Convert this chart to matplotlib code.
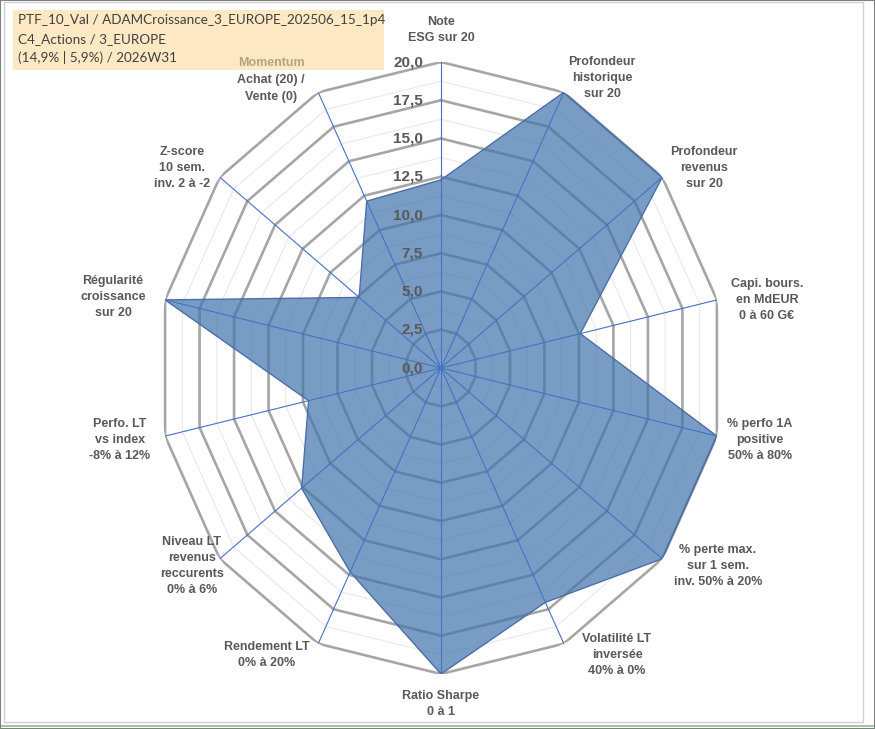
import numpy as np
import matplotlib.pyplot as plt
from matplotlib.patches import Rectangle

# --- data ---
categories = [
    'Note\nESG sur 20',
    'Profondeur\nhistorique\nsur 20',
    'Profondeur\nrevenus\nsur 20',
    'Capi. bours.\nen MdEUR\n0 à 60 G€',
    '% perfo 1A\npositive\n50% à 80%',
    '% perte max.\nsur 1 sem.\ninv. 50% à 20%',
    'Volatilité LT\ninversée\n40% à 0%',
    'Ratio Sharpe\n0 à 1',
    'Rendement LT\n0% à 20%',
    'Niveau LT\nrevenus\nreccurents\n0% à 6%',
    'Perfo. LT\nvs index\n-8% à 12%',
    'Régularité\ncroissance\nsur 20',
    'Z-score\n10 sem.\ninv. 2 à -2',
    'Momentum\nAchat (20) /\nVente (0)',
]
scores = [12.3, 20.0, 20.0, 10.1, 20.0, 20.0, 17.0, 20.0, 14.8, 12.6, 9.6, 20.0, 7.4, 12.1]
ring_ticks = [0.0, 2.5, 5.0, 7.5, 10.0, 12.5, 15.0, 17.5, 20.0]
tick_labels = ['0,0', '2,5', '5,0', '7,5', '10,0', '12,5', '15,0', '17,5', '20,0']
title_lines = [
    'PTF_10_Val / ADAMCroissance_3_EUROPE_202506_15_1p4',
    'C4_Actions / 3_EUROPE',
    '(14,9% | 5,9%) / 2026W31',
]

# label centres in pixels (x, y from top) - Excel places them by hand
label_pos = [(441, 30), (602, 78), (704, 168), (767, 300), (760, 440),
             (718, 566), (617, 655), (441, 704), (267, 655), (192, 566),
             (120, 440), (113, 297), (182, 168), (271, 80)]

W, H = 875, 729
TXT = '#595959'

fig = plt.figure(figsize=(W / 100, H / 100), dpi=100)

# frame
fig.patches.append(Rectangle((4 / W, 1 - 722 / H), 859 / W, 720 / H, transform=fig.transFigure,
                             facecolor='none', edgecolor='#d0d0d0', lw=1.0, zorder=-2))
fig.patches.append(Rectangle((0, 0), 1, 1, transform=fig.transFigure,
                             facecolor='none', edgecolor='#808080', lw=1.5, zorder=-2))
fig.add_artist(plt.Line2D([0, 1], [1 - 726 / H, 1 - 726 / H], transform=fig.transFigure,
                          color='#8cbf8c', lw=1.2, zorder=-2))

# radar axes (stretched: Excel plot area is slightly narrower than tall)
cx, cy, rx, ry = 441, 368, 283, 306
ax = fig.add_axes([(cx - rx) / W, 1 - (cy + ry) / H, 2 * rx / W, 2 * ry / H], projection='polar')
ax.set_zorder(2)
ax.set_aspect('auto')
ax.set_theta_zero_location('N')
ax.set_theta_direction(-1)
ax.set_ylim(0, 20)
ax.set_xticks([])
ax.set_yticks([])
ax.grid(False)
ax.spines['polar'].set_visible(False)
ax.patch.set_alpha(0)

n = len(scores)
theta = np.linspace(0, 2 * np.pi, n, endpoint=False)
theta_c = np.append(theta, theta[0])
vals_c = np.append(scores, scores[0])

# polygon gridlines
for r in np.arange(1.25, 20, 2.5):
    ax.plot(theta_c, [r] * (n + 1), color='#e8e8e8', lw=0.8, zorder=1)
for r in ring_ticks[1:]:
    ax.plot(theta_c, [r] * (n + 1), color='#a6a6a6', lw=1.9, zorder=1)

# series
ax.fill(theta_c, vals_c, color='#4173ab', alpha=0.7, lw=0, zorder=2)
ax.plot(theta_c, vals_c, color='#4a6fa8', lw=1.0, zorder=3)

# spokes
for t in theta:
    ax.plot([t, t], [0, 20], color='#4472c4', lw=0.8, zorder=4)

# radial tick labels
for r, lab in zip(ring_ticks, tick_labels):
    ax.annotate(lab, xy=(0, r), xytext=(-13, 0), textcoords='offset points',
                ha='right', va='center', fontsize=11, fontweight='bold', color=TXT,
                family='Liberation Sans', annotation_clip=False, zorder=5)

# category labels
for lab, (x, y) in zip(categories, label_pos):
    style = dict(ha='center', va='center', multialignment='center', fontsize=9,
                 fontweight='bold', family='Liberation Sans', linespacing=1.45)
    if lab.startswith('Momentum'):
        head, rest = lab.split('\n', 1)
        fig.text(x / W, 1 - (y - 17) / H, head, color='#b4a57d', **style)
        fig.text(x / W, 1 - (y + 8.5) / H, rest, color=TXT, **style)
    else:
        fig.text(x / W, 1 - y / H, lab, color=TXT, **style)

# title box
fig.patches.append(Rectangle((13 / W, 1 - 70 / H), 371 / W, 60 / H, transform=fig.transFigure,
                             facecolor='#fde8c4', edgecolor='none', zorder=1))
for i, line in enumerate(title_lines):
    fig.text(18 / W, 1 - (20 + 19 * i) / H, line, ha='left', va='center', fontsize=9.7,
             color='#404040', family='Lato')

fig.savefig('out.png', dpi=100)
